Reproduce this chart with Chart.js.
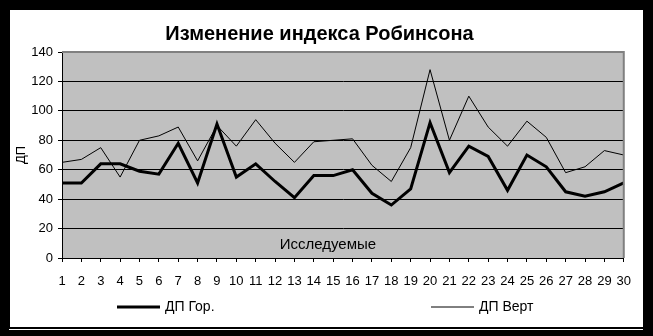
<!DOCTYPE html>
<html>
<head>
<meta charset="utf-8">
<script src="https://cdn.jsdelivr.net/npm/chart.js@4.4.1/dist/chart.umd.min.js"></script>
<style>
  html, body { margin: 0; padding: 0; background: #000; }
  body { width: 653px; height: 336px; position: relative; overflow: hidden; }
  #frame { position: absolute; left: 10px; top: 10px; width: 633px; height: 317px; background: #fff; }
  #line { position: absolute; left: 9px; top: 329px; width: 634px; height: 1px; background: #fff; }
</style>
</head>
<body>
<div id="frame"><canvas id="chart" width="633" height="317"></canvas></div>
<div id="line"></div>
<script>
const subjects = ['1','2','3','4','5','6','7','8','9','10','11','12','13','14','15',
                  '16','17','18','19','20','21','22','23','24','25','26','27','28','29','30'];
const dpHoriz = [51, 51, 64, 64, 59, 57, 78, 51, 91, 55, 64, 52, 41, 56, 56,
                 60, 44, 36, 47, 92, 58, 76, 69, 46, 70, 62, 45, 42, 45, 51];
const dpVert = [65, 67, 75, 55, 80, 83, 89, 66, 90, 76, 94, 78, 65, 79, 80,
                81, 63, 52, 75, 128, 80, 110, 89, 76, 93, 82, 58, 62, 73, 70];
const yTicks = [0, 20, 40, 60, 80, 100, 120, 140];

const fontFamily = '"Liberation Sans", Arial, sans-serif';

// фон области построения, рамка и подпись "Исследуемые"
const plotDecor = {
    id: 'plotDecor',
    beforeDraw(chart) {
        const {ctx, chartArea: a} = chart;
        ctx.save();
        ctx.fillStyle = '#c0c0c0';
        ctx.fillRect(a.left, a.top, a.right - a.left, a.bottom - a.top);
        ctx.restore();
    },
    afterDatasetsDraw(chart) {
        const {ctx, chartArea: a} = chart;
        ctx.save();
        ctx.strokeStyle = '#808080';
        ctx.lineWidth = 2;
        ctx.beginPath();
        ctx.moveTo(a.left, a.top);
        ctx.lineTo(a.right, a.top);
        ctx.lineTo(a.right, a.bottom);
        ctx.stroke();
        ctx.fillStyle = '#000';
        ctx.font = '15px ' + fontFamily;
        ctx.textAlign = 'center';
        ctx.textBaseline = 'middle';
        ctx.fillText('Исследуемые', (a.left + a.right) / 2 - 15, a.bottom - 13);
        ctx.restore();
    },
    afterDraw(chart) {
        // легенда внизу
        const {ctx} = chart;
        const items = [{x: 107, w: 3}, {x: 421, w: 1}];
        ctx.save();
        ctx.font = '14px ' + fontFamily;
        ctx.textBaseline = 'middle';
        ctx.fillStyle = '#000';
        chart.data.datasets.forEach((ds, i) => {
            const it = items[i];
            const y = 297;
            ctx.strokeStyle = ds.borderColor;
            ctx.lineWidth = ds.borderWidth;
            ctx.beginPath();
            ctx.moveTo(it.x, y);
            ctx.lineTo(it.x + 43, y);
            ctx.stroke();
            ctx.fillText(ds.label, it.x + 48, y);
        });
        ctx.restore();
    }
};

new Chart(document.getElementById('chart'), {
    type: 'line',
    data: {
        labels: subjects,
        datasets: [{
            label: 'ДП Гор.',
            data: dpHoriz,
            borderColor: '#000',
            borderWidth: 3,
            pointRadius: 0,
            tension: 0
        }, {
            label: 'ДП Верт',
            data: dpVert,
            borderColor: '#000',
            borderWidth: 1,
            pointRadius: 0,
            tension: 0
        }]
    },
    options: {
        responsive: false,
        animation: false,
        layout: { padding: { left: 0, right: 14, top: 0, bottom: 0 } },
        scales: {
            x: {
                offset: false,
                grid: { drawOnChartArea: false, drawTicks: true, tickLength: 4, color: '#000' },
                border: { color: '#000', width: 1 },
                ticks: {
                    color: '#000',
                    padding: 12,
                    maxRotation: 0,
                    autoSkip: false,
                    font: { family: fontFamily, size: 13 }
                },
                afterFit(scale) { scale.height = 69; }
            },
            y: {
                min: 0,
                max: 140,
                afterBuildTicks(scale) { scale.ticks = yTicks.map(v => ({ value: v })); },
                grid: { color: '#000', lineWidth: 1, tickLength: 4 },
                border: { color: '#000', width: 1 },
                ticks: {
                    color: '#000',
                    padding: 5,
                    font: { family: fontFamily, size: 13 }
                },
                title: {
                    display: true,
                    text: 'ДП',
                    color: '#000',
                    padding: { top: 4, bottom: 0 },
                    font: { family: fontFamily, size: 13 }
                },
                afterFit(scale) { scale.width = 52; }
            }
        },
        plugins: {
            legend: { display: false },
            tooltip: { enabled: false },
            title: {
                display: true,
                text: 'Изменение индекса Робинсона',
                color: '#000',
                padding: { top: 12, bottom: 6 },
                font: { family: fontFamily, size: 20, weight: 'bold', lineHeight: 1.2 }
            }
        }
    },
    plugins: [plotDecor]
});
</script>
</body>
</html>
